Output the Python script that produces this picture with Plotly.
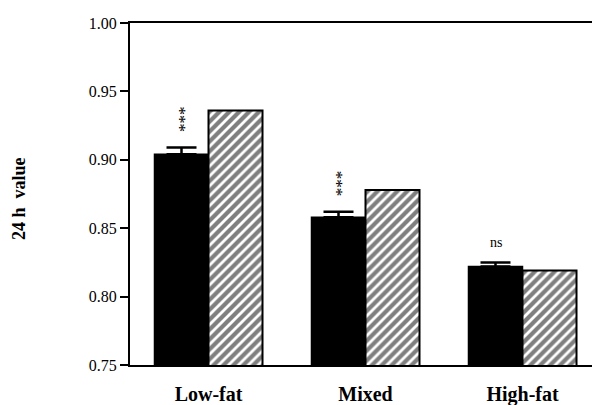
import plotly.graph_objects as go

categories = ["Low-fat", "Mixed", "High-fat"]
measured = [0.904, 0.858, 0.822]
measured_err = [0.005, 0.004, 0.003]
predicted = [0.936, 0.878, 0.819]
significance = ["***", "***", "ns"]
y_ticks = [0.75, 0.80, 0.85, 0.90, 0.95, 1.00]

serif = "Liberation Serif, Times New Roman, serif"

fig = go.Figure()
fig.add_trace(go.Bar(
    x=categories, y=measured,
    marker=dict(color="black", line=dict(color="black", width=1.5)),
    error_y=dict(type="data", array=measured_err, arrayminus=[0, 0, 0],
                 color="black", thickness=2.5, width=15),
    showlegend=False,
))
fig.add_trace(go.Bar(
    x=categories, y=predicted,
    marker=dict(color="white", line=dict(color="black", width=2),
                pattern=dict(shape="/", fgcolor="black", bgcolor="white",
                             size=7, solidity=0.6)),
    showlegend=False,
))

for i, (cat, txt) in enumerate(zip(categories, significance)):
    top = measured[i] + measured_err[i]
    if txt == "ns":
        fig.add_annotation(
            x=i - 0.172, y=top, xref="x", yref="y", text=txt,
            showarrow=False, yanchor="middle", yshift=20,
            font=dict(family=serif, size=14, color="black"),
        )
    else:
        # stacked vertically, as in the reference
        fig.add_annotation(
            x=i - 0.172, y=top, xref="x", yref="y", text=txt,
            showarrow=False, textangle=-90, xanchor="center", yanchor="middle",
            xshift=3, yshift=28,
            font=dict(family=serif, size=17, color="black"),
        )

fig.add_annotation(
    x=0, y=0.5, xref="paper", yref="paper", text="<b>24 h  value</b>",
    showarrow=False, textangle=-90, xanchor="center", yanchor="middle",
    xshift=-111, yshift=-5,
    font=dict(family=serif, size=18, color="black"),
)

fig.update_layout(
    width=600, height=405,
    margin=dict(l=122, r=7, t=7, b=46),
    plot_bgcolor="white", paper_bgcolor="white",
    barmode="group", bargap=0.312, bargroupgap=0,
    font=dict(family=serif, color="black"),
)
fig.update_xaxes(
    range=[-0.5, 2.5], showline=True, linecolor="black", linewidth=2,
    mirror=True, ticks="", showgrid=False, ticklabelstandoff=10,
    tickfont=dict(family=serif, size=20, color="black"),
    tickvals=[0, 1, 2],
    ticktext=["<b>" + c + "</b>" for c in categories],
)
fig.update_yaxes(
    range=[0.75, 1.0], tickvals=y_ticks, tickformat=".2f",
    showline=True, linecolor="black", linewidth=2, ticks="outside",
    ticklen=8, tickwidth=2, tickcolor="black", showgrid=False, zeroline=False,
    tickfont=dict(family=serif, size=16, color="black"),
)

fig.write_html("out.html")
